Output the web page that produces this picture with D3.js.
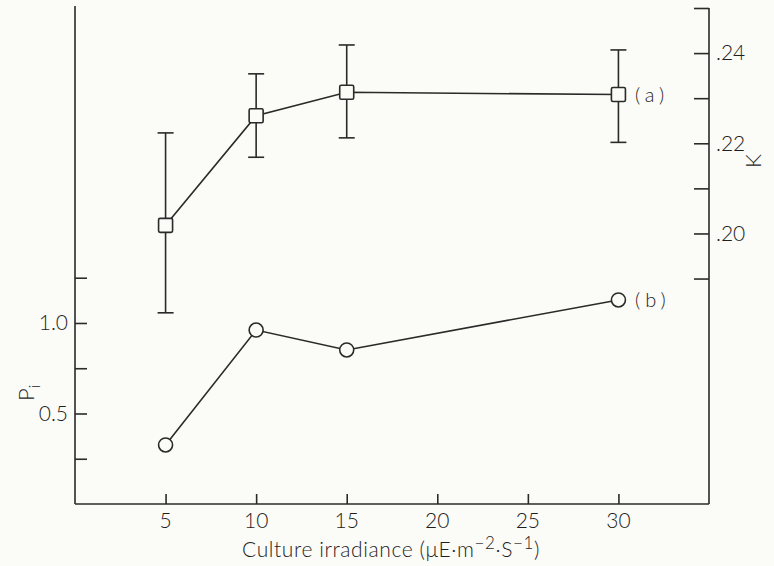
<!DOCTYPE html>
<html>
<head>
<meta charset="utf-8">
<script src="https://cdn.jsdelivr.net/npm/d3@7"></script>
<style>
  html, body { margin: 0; padding: 0; background: #fbfbf7; }
  svg { display: block; }
  text { font-family: Lato, "Liberation Sans", sans-serif; font-weight: 300; fill: #1e1e1e; }
</style>
</head>
<body>
<svg id="chart" width="774" height="566"></svg>
<script>
// Culture irradiance levels (µE·m⁻²·s⁻¹)
const irradiance = [5, 10, 15, 30];
// Curve (a): K, with error bar limits
const kMean = [0.2018, 0.2261, 0.2313, 0.2308];
const kLow  = [0.1824, 0.2169, 0.2212, 0.2202];
const kHigh = [0.2223, 0.2354, 0.2418, 0.2407];
// Curve (b): P_i
const piValues = [0.326, 0.961, 0.851, 1.127];

const xTicks = [5, 10, 15, 20, 25, 30];
const piTicks = [0.25, 0.5, 0.75, 1.0, 1.25];
const piTickLabels = ["", "0.5", "", "1.0", ""];
const kTicks = [0.19, 0.20, 0.21, 0.22, 0.23, 0.24, 0.25];
const kTickLabels = ["", ".20", "", ".22", "", ".24", ""];

const ink = "#2a2a2a";
const svg = d3.select("#chart");

const plotLeft = 75, plotRight = 709, plotTop = 8, plotBottom = 504;

const x = d3.scaleLinear().domain([0, 35]).range([plotLeft, plotRight]);
const yP = d3.scaleLinear().domain([0, 2.74]).range([plotBottom, plotTop]);
const yK = d3.scaleLinear().domain([0.14, 0.25]).range([plotBottom, plotTop]);

// Axis frame lines
const frame = svg.append("g").attr("stroke", ink).attr("stroke-width", 1.6).attr("fill", "none");
frame.append("line").attr("x1", plotLeft).attr("x2", plotLeft).attr("y1", 6).attr("y2", plotBottom);
frame.append("line").attr("x1", plotLeft).attr("x2", plotRight).attr("y1", plotBottom).attr("y2", plotBottom);
frame.append("line").attr("x1", plotRight).attr("x2", plotRight).attr("y1", plotTop).attr("y2", plotBottom);

// Bottom axis: ticks pointing up into the plot
const xAxis = d3.axisTop(x).tickValues(xTicks).tickSize(10).tickFormat("");
const gx = svg.append("g").attr("transform", `translate(0,${plotBottom})`).call(xAxis);
gx.select(".domain").remove();
gx.selectAll(".tick line").attr("stroke", ink).attr("stroke-width", 1.6);
svg.append("g").selectAll("text").data(xTicks).join("text")
  .attr("x", d => x(d)).attr("y", 528)
  .attr("text-anchor", "middle").attr("font-size", 21)
  .text(d => d);

// Left axis (P_i): ticks pointing right
const yAxisL = d3.axisRight(yP).tickValues(piTicks).tickSize(12).tickFormat("");
const gl = svg.append("g").attr("transform", `translate(${plotLeft},0)`).call(yAxisL);
gl.select(".domain").remove();
gl.selectAll(".tick line").attr("stroke", ink).attr("stroke-width", 1.6);
svg.append("g").selectAll("text").data(piTicks).join("text")
  .attr("x", 68).attr("y", d => yP(d)).attr("dy", "0.35em")
  .attr("text-anchor", "end").attr("font-size", 21)
  .text((d, i) => piTickLabels[i]);

// Right axis (K): ticks pointing left
const yAxisR = d3.axisLeft(yK).tickValues(kTicks).tickSize(15).tickFormat("");
const gr = svg.append("g").attr("transform", `translate(${plotRight},0)`).call(yAxisR);
gr.select(".domain").remove();
gr.selectAll(".tick line").attr("stroke", ink).attr("stroke-width", 1.6);
svg.append("g").selectAll("text").data(kTicks).join("text")
  .attr("x", 716).attr("y", d => yK(d)).attr("dy", "0.35em")
  .attr("text-anchor", "start").attr("font-size", 21)
  .text((d, i) => kTickLabels[i]);

// Axis titles
svg.append("text").attr("transform", "translate(34,401) rotate(-90)")
  .attr("font-size", 22)
  .call(t => {
    t.append("tspan").text("P");
    t.append("tspan").attr("dy", 6).attr("font-size", 16).text("i");
  });
svg.append("text").attr("transform", "translate(761,168) rotate(-90)")
  .attr("font-size", 22).text("K");

const xt = svg.append("text").attr("x", 391).attr("y", 557)
  .attr("text-anchor", "middle").attr("font-size", 21).attr("letter-spacing", 0.6);
xt.append("tspan").text("Culture irradiance (\u03bcE\u00b7m");
xt.append("tspan").attr("dy", -8).attr("font-size", 17).text("\u22122");
xt.append("tspan").attr("dy", 8).text("\u00b7S");
xt.append("tspan").attr("dy", -8).attr("font-size", 17).text("\u22121");
xt.append("tspan").attr("dy", 8).text(")");

// Curve (a): K with error bars and square markers
const kData = irradiance.map((v, i) => ({ x: v, y: kMean[i], lo: kLow[i], hi: kHigh[i] }));
const ga = svg.append("g").attr("stroke", ink).attr("stroke-width", 1.6).attr("fill", "none");
ga.append("path").datum(kData)
  .attr("d", d3.line().x(d => x(d.x)).y(d => yK(d.y)));
ga.selectAll("line.bar").data(kData).join("line").attr("class", "bar")
  .attr("x1", d => x(d.x)).attr("x2", d => x(d.x))
  .attr("y1", d => yK(d.lo)).attr("y2", d => yK(d.hi));
ga.selectAll("line.capH").data(kData).join("line").attr("class", "capH")
  .attr("x1", d => x(d.x) - 8).attr("x2", d => x(d.x) + 8)
  .attr("y1", d => yK(d.hi)).attr("y2", d => yK(d.hi));
ga.selectAll("line.capL").data(kData).join("line").attr("class", "capL")
  .attr("x1", d => x(d.x) - 8).attr("x2", d => x(d.x) + 8)
  .attr("y1", d => yK(d.lo)).attr("y2", d => yK(d.lo));
ga.selectAll("rect").data(kData).join("rect")
  .attr("x", d => x(d.x) - 7).attr("y", d => yK(d.y) - 7)
  .attr("width", 14).attr("height", 14).attr("rx", 1.5)
  .attr("fill", "#fbfbf7");

// Curve (b): P_i with open circle markers
const pData = irradiance.map((v, i) => ({ x: v, y: piValues[i] }));
const gb = svg.append("g").attr("stroke", ink).attr("stroke-width", 1.6).attr("fill", "none");
gb.append("path").datum(pData)
  .attr("d", d3.line().x(d => x(d.x)).y(d => yP(d.y)));
gb.selectAll("circle").data(pData).join("circle")
  .attr("cx", d => x(d.x)).attr("cy", d => yP(d.y)).attr("r", 7)
  .attr("fill", "#fbfbf7");

// Curve labels
svg.append("text").attr("x", 635).attr("y", yK(kMean[3])).attr("dy", "0.35em")
  .attr("font-size", 20).attr("letter-spacing", 5).text("(a)");
svg.append("text").attr("x", 635).attr("y", yP(piValues[3])).attr("dy", "0.35em")
  .attr("font-size", 20).attr("letter-spacing", 5).text("(b)");
</script>
</body>
</html>
